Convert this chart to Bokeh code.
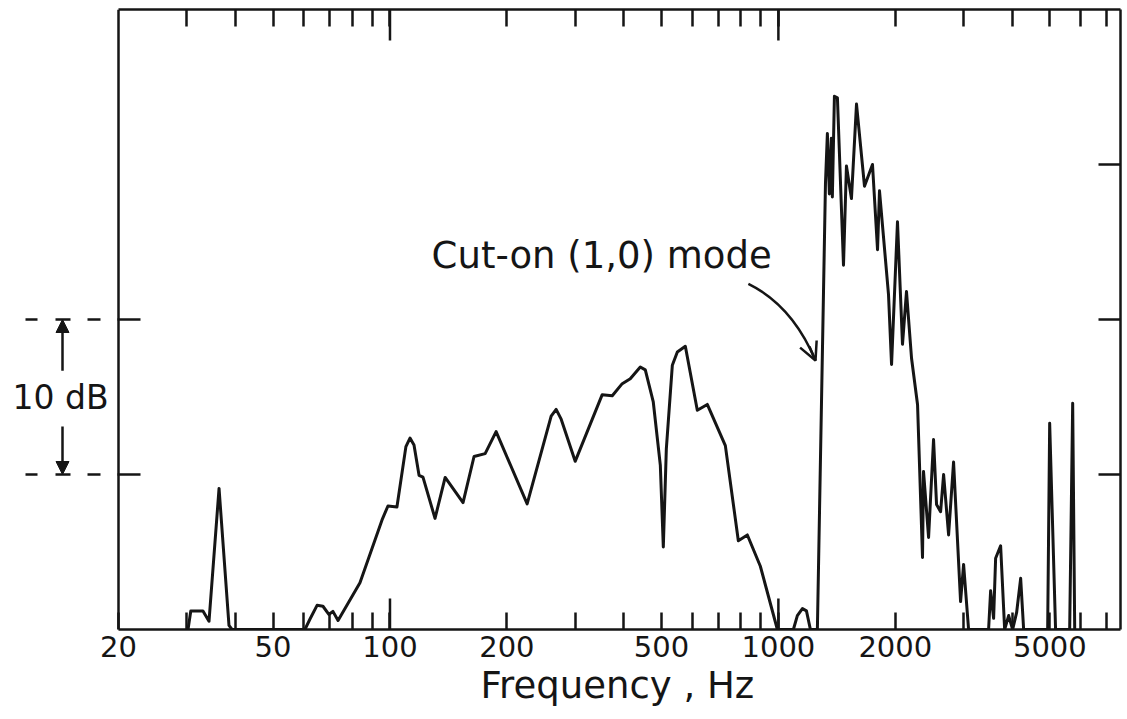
import math
from bokeh.plotting import figure
from bokeh.models import (Range1d, FixedTicker, LogAxis, LinearAxis, Span, Title,
                          Label, Arrow, OpenHead, NormalHead)
from bokeh.embed import file_html
from bokeh.resources import INLINE

# ---------------- data ----------------
freq_hz = [30.2, 30.7, 31.4, 33.0, 34.2, 36.3, 38.5, 39.2,
           60.4, 62.2, 64.9, 67.2, 69.6, 71.3, 73.5, 83.7, 95.4, 98.8,
           104.2, 109.9, 112.6, 115.3, 118.8, 121.6, 130.6, 138.7, 154.2, 164.6, 175.8, 187.6,
           225.5, 260.0, 267.8, 275.9, 299.8, 351.9, 373.5, 396.2, 415.6, 441.0, 454.3, 476.3,
           496.6, 505.5, 514.6, 533.3, 549.3, 576.0, 618.4, 656.1, 730.2, 788.6, 832.0, 898.6, 994,
           1093, 1119, 1153, 1181, 1209, 1260, 1322, 1337, 1353, 1369, 1377, 1394,
           1419, 1471, 1497, 1542, 1589, 1666, 1747, 1800, 1821, 1921,
           1956, 2026, 2087, 2137, 2202, 2282, 2350, 2364, 2436, 2509,
           2554, 2616, 2663, 2743, 2825, 2945, 2998, 3088,
           3477, 3519, 3582, 3625, 3734, 3824, 3916, 4010, 4106, 4205,
           4280, 4935, 4994, 5172, 5623, 5724, 5793]
level_db = [0, 1.19, 1.2, 1.2, 0.53, 9.1, 0.26, 0,
            0, 0.66, 1.56, 1.5, 0.97, 1.17, 0.58, 3.02, 7.07, 7.97,
            7.9, 11.8, 12.35, 11.9, 9.95, 9.83, 7.17, 9.81, 8.19, 11.16, 11.35, 12.77,
            8.1, 13.76, 14.2, 13.57, 10.85, 15.15, 15.08, 15.86, 16.18, 16.94, 16.75, 14.68,
            10.61, 5.32, 11.64, 17.05, 17.9, 18.27, 14.14, 14.52, 11.86, 5.73, 6.1, 4.08, 0,
            0, 0.9, 1.35, 1.2, 0, 0, 28.8, 32.0, 28.1, 31.7, 27.9, 34.4,
            34.3, 23.5, 29.9, 27.8, 33.9, 28.6, 30.0, 24.5, 28.3, 21.6,
            17.1, 26.3, 18.4, 21.8, 17.5, 14.5, 4.65, 10.2, 5.94, 12.26,
            8.06, 7.6, 10.0, 6.1, 10.8, 1.8, 4.2, 0,
            0, 2.5, 0.72, 4.6, 5.4, 0, 0.9, 0, 1.1, 3.3,
            0, 0, 13.3, 0, 0, 14.6, 0]

x_label_ticks = [20, 50, 100, 200, 500, 1000, 2000, 5000]
x_plain_ticks = [30, 40, 60, 70, 80, 90, 300, 400, 600, 700, 800, 900,
                 3000, 4000, 6000, 7000]
x_long_ticks = [100, 1000]
y_ticks_right = [10, 20, 30]
scale_bar_db = [10, 20]          # the "10 dB" scale bar at the left

X_MIN, X_MAX = 20, 7600
Y_MIN, Y_MAX = 0, 40

# ---------------- layout constants ----------------
W, H = 1127, 719
BORDER_L, BORDER_R, BORDER_T, BORDER_B = 4, 7, 9, 90
AXIS_X_PX = 118                   # canvas x of the left plot border (20 Hz)
PAD_L = AXIS_X_PX - BORDER_L      # part of the frame left of the plot box
PX_PER_DEC = (W - BORDER_R - AXIS_X_PX) / math.log10(X_MAX / X_MIN)
PX_PER_DB = (H - BORDER_T - BORDER_B) / (Y_MAX - Y_MIN)
X_VIEW_MIN = X_MIN / 10 ** (PAD_L / PX_PER_DEC)


def hz_at(dpx):
    """frequency that lies dpx pixels right of the left plot border"""
    return X_MIN * 10 ** (dpx / PX_PER_DEC)


FONT = "DejaVu Sans"
INK = "#151515"
LW = 2.5
SHORT_TICK, LONG_TICK, Y_TICK = 17, 31, 22

p = figure(width=W, height=H, x_axis_type="log", y_axis_location=None,
           x_range=Range1d(X_VIEW_MIN, X_MAX), y_range=Range1d(Y_MIN, Y_MAX),
           output_backend="svg", toolbar_location=None,
           min_border_left=BORDER_L, min_border_right=BORDER_R,
           min_border_top=BORDER_T, min_border_bottom=BORDER_B)
p.grid.visible = False
p.outline_line_color = None
p.background_fill_color = "white"
p.border_fill_color = "white"


def style_x(ax):
    ax.bounds = (X_MIN * 0.999, X_MAX)
    ax.axis_line_color = INK
    ax.axis_line_width = LW
    ax.major_tick_in = SHORT_TICK
    ax.major_tick_out = 0
    ax.minor_tick_in = SHORT_TICK
    ax.minor_tick_out = 0
    ax.major_tick_line_width = LW
    ax.minor_tick_line_width = LW
    ax.major_tick_line_color = INK
    ax.minor_tick_line_color = INK


bx = p.xaxis[0]
bx.ticker = FixedTicker(ticks=x_label_ticks, minor_ticks=x_plain_ticks)
style_x(bx)
bx.major_label_overrides = {t: str(t) for t in x_label_ticks}
bx.major_label_standoff = 6
bx.major_label_text_font = FONT
bx.major_label_text_font_size = "29px"
bx.major_label_text_color = INK

# x-axis title, placed under the plot box (centred on the box, not the frame)
p.add_layout(Title(text="Frequency , Hz", align="left", offset=476, standoff=4,
                   text_font=FONT, text_font_size="37px", text_font_style="normal",
                   text_color=INK), "below")

tx = LogAxis(ticker=FixedTicker(ticks=[], minor_ticks=x_label_ticks[1:] + x_plain_ticks))
style_x(tx)
tx.major_label_standoff = 0
p.add_layout(tx, "above")

ry = LinearAxis(ticker=FixedTicker(ticks=[], minor_ticks=y_ticks_right))
ry.axis_line_color = INK
ry.axis_line_width = LW
ry.major_tick_in = 0
ry.major_tick_out = 0
ry.minor_tick_in = Y_TICK
ry.minor_tick_out = 0
ry.minor_tick_line_width = LW
ry.minor_tick_line_color = INK
ry.major_label_standoff = 0
p.add_layout(ry, "right")

# left border of the plot box
p.add_layout(Span(location=X_MIN, dimension="height", line_color=INK, line_width=LW))

# longer ticks at 100 Hz and 1 kHz (bottom and top)
long_db = LONG_TICK / PX_PER_DB
p.segment(x0=x_long_ticks, y0=[Y_MIN] * 2, x1=x_long_ticks, y1=[Y_MIN + long_db] * 2,
          line_color=INK, line_width=LW)
p.segment(x0=x_long_ticks, y0=[Y_MAX] * 2, x1=x_long_ticks, y1=[Y_MAX - long_db] * 2,
          line_color=INK, line_width=LW)

# left ticks at the scale-bar levels: dashed outside, solid inside
n = len(scale_bar_db)
p.segment(x0=[hz_at(-93)] * n, y0=scale_bar_db, x1=[X_MIN] * n, y1=scale_bar_db,
          line_color=INK, line_width=LW, line_dash="12 18 15 17 13 17")
p.segment(x0=[X_MIN] * n, y0=scale_bar_db, x1=[hz_at(Y_TICK)] * n, y1=scale_bar_db,
          line_color=INK, line_width=LW)

# spectrum curve
p.line(freq_hz, level_db, line_width=3, line_color=INK, line_join="round")

# Cut-on annotation
p.add_layout(Label(x=128, y=24.1, text="Cut-on (1,0) mode", text_font=FONT,
                   text_font_size="37px", text_color=INK, text_baseline="middle"))
p.quadratic(x0=[837], y0=[22.3], x1=[1246], y1=[17.35], cx=[1087], cy=[20.9],
            line_width=LW, line_color=INK)
p.add_layout(Arrow(x_start=1202, y_start=18.26, x_end=1246, y_end=17.35,
                   line_width=LW, line_color=INK,
                   end=OpenHead(size=18, line_width=LW, line_color=INK)))

# 10 dB scale bar
mid_db = sum(scale_bar_db) / 2
p.add_layout(Label(x=hz_at(-106), y=mid_db, text="10 dB", text_font=FONT,
                   text_font_size="33px", text_color=INK, text_baseline="middle",
                   text_align="left"))
ax_hz = hz_at(-56)
p.add_layout(Arrow(x_start=ax_hz, y_start=mid_db + 1.7, x_end=ax_hz, y_end=scale_bar_db[1],
                   line_width=LW, line_color=INK,
                   end=NormalHead(size=13, fill_color=INK, line_color=INK, line_width=1)))
p.add_layout(Arrow(x_start=ax_hz, y_start=mid_db - 1.9, x_end=ax_hz, y_end=scale_bar_db[0],
                   line_width=LW, line_color=INK,
                   end=NormalHead(size=13, fill_color=INK, line_color=INK, line_width=1)))

open("out.html", "w").write(file_html(p, INLINE))
